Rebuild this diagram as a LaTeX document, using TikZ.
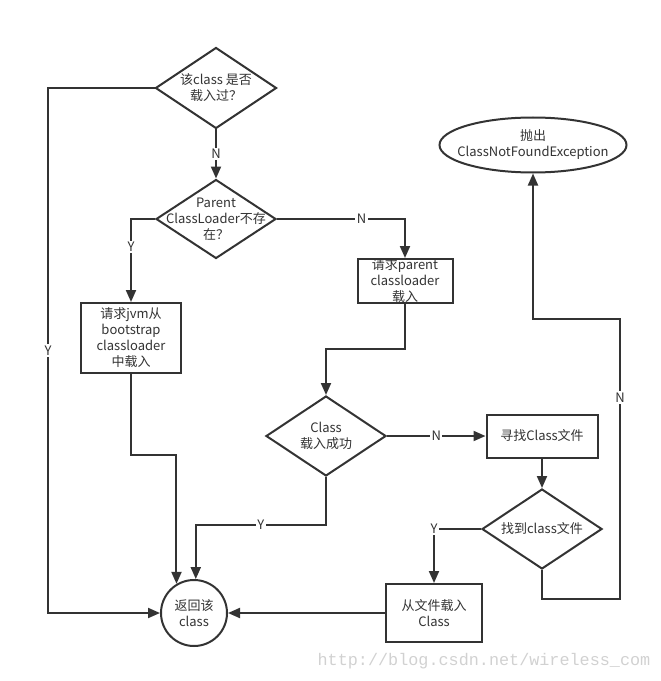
\documentclass[tikz,border=0pt]{standalone}
\usepackage{fontspec}
\setmainfont{Noto Sans CJK SC}
\newfontfamily\wmfont{Liberation Mono}
\usetikzlibrary{shapes.geometric,arrows.meta,calc}
\definecolor{ink}{HTML}{333333}
\begin{document}
\begin{tikzpicture}[x=0.75pt,y=-0.75pt,
  base/.style={draw=ink, line width=1.5pt, fill=white},
  dia/.style={base, shape=diamond, inner sep=0pt},
  box/.style={base, rectangle, inner sep=0pt, text=ink, font=\fontsize{9.75}{12}\selectfont, align=center},
  txt/.style={text=ink, font=\fontsize{9.75}{12}\selectfont, align=center, inner sep=0pt},
  arr/.style={draw=ink, line width=1.5pt, -{Triangle[length=9pt,width=7.5pt]}},
  lbl/.style={fill=white, text=ink, font=\fontsize{9.75}{12}\selectfont, inner sep=1pt}]
\useasboundingbox (0,0) rectangle (660,681);

% nodes
\node[dia, minimum width=90.75pt, minimum height=60.75pt] (d1) at (216,88) {};
\node[txt] (t1) at (d1) {该class 是否\\载入过？};
\node[dia, minimum width=90pt, minimum height=59.25pt] (d2) at (216,219) {};
\node[txt] (t2) at (d2) {Parent\\ClassLoader不存\\在？};
\node[box, minimum width=75pt, minimum height=52.5pt] (b1) at (131,338) {请求jvm从\\bootstrap\\classloader\\中载入};
\node[box, minimum width=71.25pt, minimum height=33pt] (b2) at (405,281) {请求parent\\classloader\\载入};
\node[dia, minimum width=90pt, minimum height=60pt] (d3) at (326,436) {};
\node[txt] (t3) at (d3) {Class\\载入成功};
\node[box, minimum width=83.25pt, minimum height=32.25pt] (b3) at (542,436) {寻找Class文件};
\node[dia, minimum width=90pt, minimum height=60pt] (d4) at (542,529) {};
\node[txt] (t4) at (d4) {找到class文件};
\node[box, minimum width=72pt, minimum height=43.5pt] (b4) at (434,613) {从文件载入\\Class};
\node[base, circle, minimum size=49.5pt, inner sep=0pt, text=ink, font=\fontsize{9.75}{12}\selectfont, align=center] (ret) at (194,613) {返回该\\class};
\node[base, ellipse, minimum width=140.25pt, minimum height=41.25pt, inner sep=0pt] (ex) at (533,145) {};
\node[txt] (t5) at (ex) {抛出\\ClassNotFoundException};

% helper coordinates
\coordinate (y349) at (0,349);
\coordinate (y455) at (0,455);
\coordinate (y525) at (0,525);
\coordinate (c1) at (620,599);
\coordinate (c2) at (620,319);
\coordinate (c3) at (48,613);

% connectors
\draw[arr] (d1.south) -- node[lbl]{N} (d2.north);
\draw[arr] (d2.west) -| node[lbl,pos=0.67]{Y} (b1.north);
\draw[arr] (d2.east) -| node[lbl,pos=0.33]{N} (b2.north);
\draw[arr] (b2.south) -- (b2.south |- y349) -| (d3.north);
\draw[arr] (d3.east) -- node[lbl]{N} (b3.west);
\draw[arr] (b3.south) -- (d4.north);
\draw[arr] (d4.west) -| node[lbl,pos=0.5]{Y} (b4.north);
\draw[arr] (b4.west) -- (ret.east);
\draw[arr] (d4.south) |- (c1) -- node[lbl,pos=0.72]{N} (c2) -| (ex.south);
\draw[arr] (d1.west) -| node[lbl,pos=0.75]{Y} (c3) -- (ret.west);
\draw[arr] (b1.south) |- (ret.121 |- y455) -- (ret.121);
\draw[arr] (d3.south) |- node[lbl,pos=0.75]{Y} (ret.87 |- y525) -- (ret.87);

% watermark
\node[inner sep=0pt, text=black!18, font=\wmfont\fontsize{12.6}{14}\selectfont] (wm) at (484,661) {http://blog.csdn.net/wireless\_com};
\end{tikzpicture}
\end{document}
